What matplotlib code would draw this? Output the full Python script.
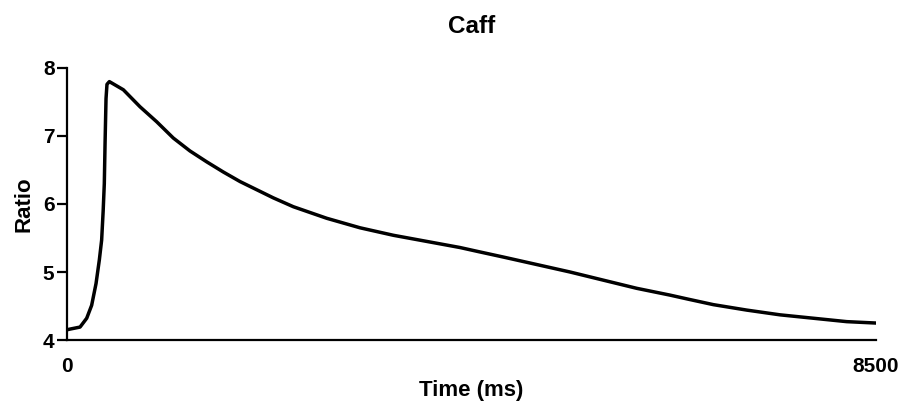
import matplotlib.pyplot as plt

plt.rcParams['font.family'] = ['Liberation Sans', 'DejaVu Sans']
plt.rcParams['font.weight'] = 'bold'

# values
time_ms = [0, 30, 137, 207, 259, 305, 340, 364, 380, 392, 400, 410, 420, 445,
           592, 767, 942, 1117, 1292, 1468, 1643, 1818, 1993, 2168, 2378,
           2729, 3079, 3429, 3779, 4129, 4322, 4584, 4935, 5285, 5635, 5986,
           6336, 6528, 6791, 7141, 7492, 7842, 8192, 8490]
ratio = [4.15, 4.16, 4.19, 4.32, 4.51, 4.83, 5.18, 5.47, 5.90, 6.30, 6.90, 7.55,
         7.76, 7.80, 7.68, 7.43, 7.21, 6.97, 6.78, 6.62, 6.47, 6.33, 6.21,
         6.09, 5.96, 5.79, 5.65, 5.54, 5.45, 5.36, 5.30, 5.22, 5.11, 5.00,
         4.88, 4.76, 4.66, 4.60, 4.52, 4.44, 4.37, 4.32, 4.27, 4.25]

x_ticks = [0, 8500]
y_ticks = [4, 5, 6, 7, 8]

fig = plt.figure(figsize=(9.04, 4.04), dpi=100)
ax = fig.add_axes([67 / 904, 1 - 340 / 404, 809 / 904, 272 / 404])

ax.plot(time_ms, ratio, color='black', linewidth=2.5, solid_joinstyle='round')

ax.set_xlim(0, 8500)
ax.set_ylim(4, 8)
ax.set_xticks(x_ticks)
ax.set_yticks(y_ticks)

for side in ['top', 'right']:
    ax.spines[side].set_visible(False)
for side in ['left', 'bottom']:
    ax.spines[side].set_linewidth(1.6)

ax.tick_params(axis='y', length=7, width=1.6, pad=2, labelsize=15)
ax.tick_params(axis='x', length=0, pad=12, labelsize=15)

ax.set_xlabel('Time (ms)', fontsize=16, fontweight='bold', labelpad=3)
ax.set_ylabel('Ratio', fontsize=16, fontweight='bold', labelpad=6)
ax.set_title('Caff', fontsize=17.5, fontweight='bold', pad=25)

fig.savefig('out.png', dpi=100)
